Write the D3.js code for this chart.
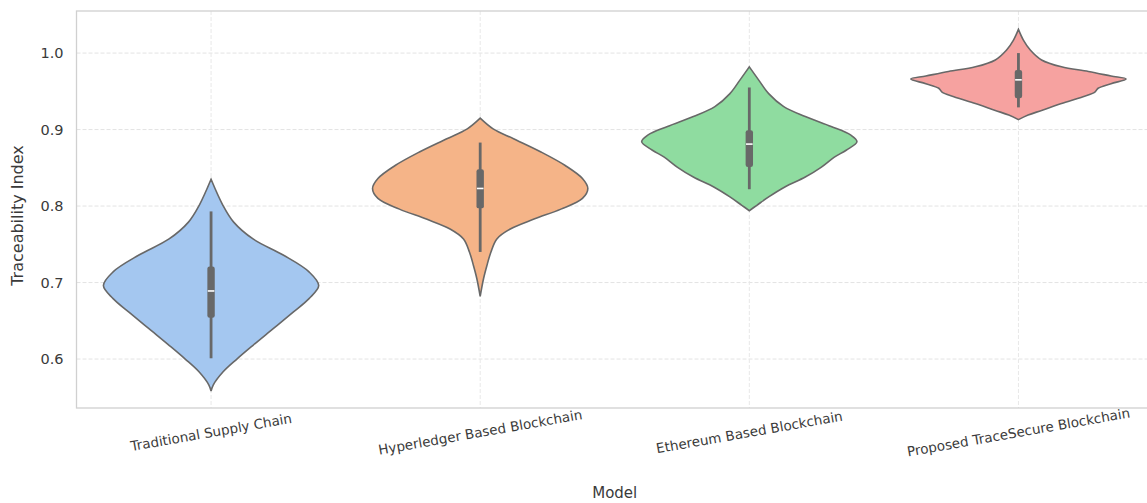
<!DOCTYPE html>
<html>
<head>
<meta charset="utf-8">
<script src="https://cdn.jsdelivr.net/npm/d3@7"></script>
<style>
  html, body { margin: 0; padding: 0; background: #ffffff; }
  svg { display: block; font-family: "DejaVu Sans", sans-serif; }
</style>
</head>
<body>
<svg id="chart" width="1147" height="503"></svg>
<script>
// Models compared on the x axis
const models = [
  "Traditional Supply Chain",
  "Hyperledger Based Blockchain",
  "Ethereum Based Blockchain",
  "Proposed TraceSecure Blockchain"
];

// Kernel density outlines: [traceability value, relative density (1 = widest)]
const traditionalDensity = [
  [0.835, 0], [0.801, 0.11], [0.779, 0.21], [0.757, 0.39], [0.736, 0.67],
  [0.714, 0.91], [0.696, 1.0], [0.679, 0.91], [0.661, 0.76], [0.640, 0.58],
  [0.618, 0.39], [0.600, 0.24], [0.583, 0.11], [0.566, 0.02], [0.558, 0]
];
const hyperledgerDensity = [
  [0.915, 0], [0.901, 0.12], [0.888, 0.31], [0.871, 0.56], [0.853, 0.79],
  [0.836, 0.95], [0.823, 1.0], [0.810, 0.95], [0.796, 0.75], [0.783, 0.50],
  [0.770, 0.28], [0.757, 0.155], [0.740, 0.10], [0.722, 0.062], [0.705, 0.031],
  [0.682, 0]
];
const ethereumDensity = [
  [0.982, 0], [0.965, 0.086], [0.947, 0.18], [0.930, 0.32], [0.917, 0.52],
  [0.904, 0.76], [0.893, 0.94], [0.884, 1.0], [0.873, 0.90], [0.864, 0.79],
  [0.851, 0.67], [0.838, 0.52], [0.825, 0.33], [0.812, 0.18], [0.801, 0.07],
  [0.794, 0]
];
const traceSecureDensity = [
  [1.031, 0], [1.017, 0.046], [1.004, 0.11], [0.991, 0.215], [0.982, 0.40],
  [0.976, 0.65], [0.970, 0.86], [0.966, 1.0], [0.960, 0.86], [0.954, 0.74],
  [0.949, 0.71], [0.943, 0.60], [0.934, 0.40], [0.925, 0.215], [0.919, 0.09],
  [0.913, 0]
];
const densities = [traditionalDensity, hyperledgerDensity, ethereumDensity, traceSecureDensity];

// Box summary per model
const whiskerLow  = [0.601, 0.740, 0.822, 0.929];
const quartile1   = [0.654, 0.797, 0.851, 0.941];
const medians     = [0.689, 0.823, 0.881, 0.965];
const quartile3   = [0.721, 0.848, 0.899, 0.978];
const whiskerHigh = [0.793, 0.883, 0.955, 1.000];

// Axis settings
const yTicks = [0.6, 0.7, 0.8, 0.9, 1.0];
const yLimits = [0.536, 1.055];

// Pastel palette
const palette = ["#a4c7f0", "#f5b488", "#8fdca0", "#f6a2a0"];
const lineGray = "#686868";

const svg = d3.select("#chart");
const plot = { left: 76.5, right: 1153, top: 11, bottom: 408 };

const x = d3.scalePoint().domain(models).range([plot.left, plot.right]).padding(0.5);
const y = d3.scaleLinear().domain(yLimits).range([plot.bottom, plot.top]);
const halfWidth = x.step() * 0.4;

// Grid
const grid = svg.append("g").attr("class", "grid");
grid.selectAll("line.h").data(yTicks).join("line")
  .attr("class", "h")
  .attr("x1", plot.left).attr("x2", plot.right)
  .attr("y1", d => y(d)).attr("y2", d => y(d))
  .attr("stroke", "#e3e3e3").attr("stroke-width", 1)
  .attr("stroke-dasharray", "4,2");
grid.selectAll("line.v").data(models).join("line")
  .attr("class", "v")
  .attr("x1", d => x(d)).attr("x2", d => x(d))
  .attr("y1", plot.top).attr("y2", plot.bottom)
  .attr("stroke", "#e8e8e8").attr("stroke-width", 1)
  .attr("stroke-dasharray", "4,2");

// Frame
svg.append("rect")
  .attr("x", plot.left).attr("y", plot.top)
  .attr("width", plot.right - plot.left).attr("height", plot.bottom - plot.top)
  .attr("fill", "none").attr("stroke", "#d0d0d0").attr("stroke-width", 1.3);

// Violins
const violins = svg.append("g").attr("class", "violins");
models.forEach((m, i) => {
  const cx = x(m);
  const area = d3.area()
    .y(d => y(d[0]))
    .x0(d => cx - d[1] * halfWidth)
    .x1(d => cx + d[1] * halfWidth)
    .curve(d3.curveCatmullRom.alpha(0.5));
  violins.append("path")
    .datum(densities[i])
    .attr("d", area)
    .attr("fill", palette[i])
    .attr("stroke", lineGray)
    .attr("stroke-width", 1.6);

  // whiskers
  violins.append("line")
    .attr("x1", cx).attr("x2", cx)
    .attr("y1", y(whiskerLow[i])).attr("y2", y(whiskerHigh[i]))
    .attr("stroke", lineGray).attr("stroke-width", 2.8);
  // interquartile box
  violins.append("rect")
    .attr("x", cx - 3.7).attr("width", 7.4)
    .attr("y", y(quartile3[i])).attr("height", y(quartile1[i]) - y(quartile3[i]))
    .attr("rx", 2.2).attr("fill", lineGray);
  // median
  violins.append("line")
    .attr("x1", cx - 3.3).attr("x2", cx + 3.3)
    .attr("y1", y(medians[i])).attr("y2", y(medians[i]))
    .attr("stroke", "#ffffff").attr("stroke-width", 1.6);
});

// Y axis tick labels
const yAxis = svg.append("g").attr("class", "y-axis")
  .attr("transform", `translate(${plot.left},0)`)
  .call(d3.axisLeft(y).tickValues(yTicks).tickFormat(d3.format(".1f")).tickSize(0).tickPadding(13));
yAxis.select(".domain").remove();
yAxis.selectAll("text").attr("font-size", 14.5).attr("fill", "#3a3a3a")
  .attr("font-family", "DejaVu Sans");

// X axis tick labels, slightly rotated
const xAxis = svg.append("g").attr("class", "x-axis");
xAxis.selectAll("text").data(models).join("text")
  .attr("transform", d => `translate(${x(d)},432) rotate(-10)`)
  .attr("text-anchor", "middle")
  .attr("dominant-baseline", "central")
  .attr("font-size", 13.5).attr("fill", "#3a3a3a")
  .text(d => d);

// Axis titles
svg.append("text")
  .attr("x", (plot.left + plot.right) / 2).attr("y", 498)
  .attr("text-anchor", "middle").attr("font-size", 15).attr("fill", "#3a3a3a")
  .text("Model");
svg.append("text")
  .attr("transform", `translate(23,${(plot.top + plot.bottom) / 2 + 6}) rotate(-90)`)
  .attr("text-anchor", "middle").attr("font-size", 16).attr("fill", "#3a3a3a")
  .text("Traceability Index");
</script>
</body>
</html>
